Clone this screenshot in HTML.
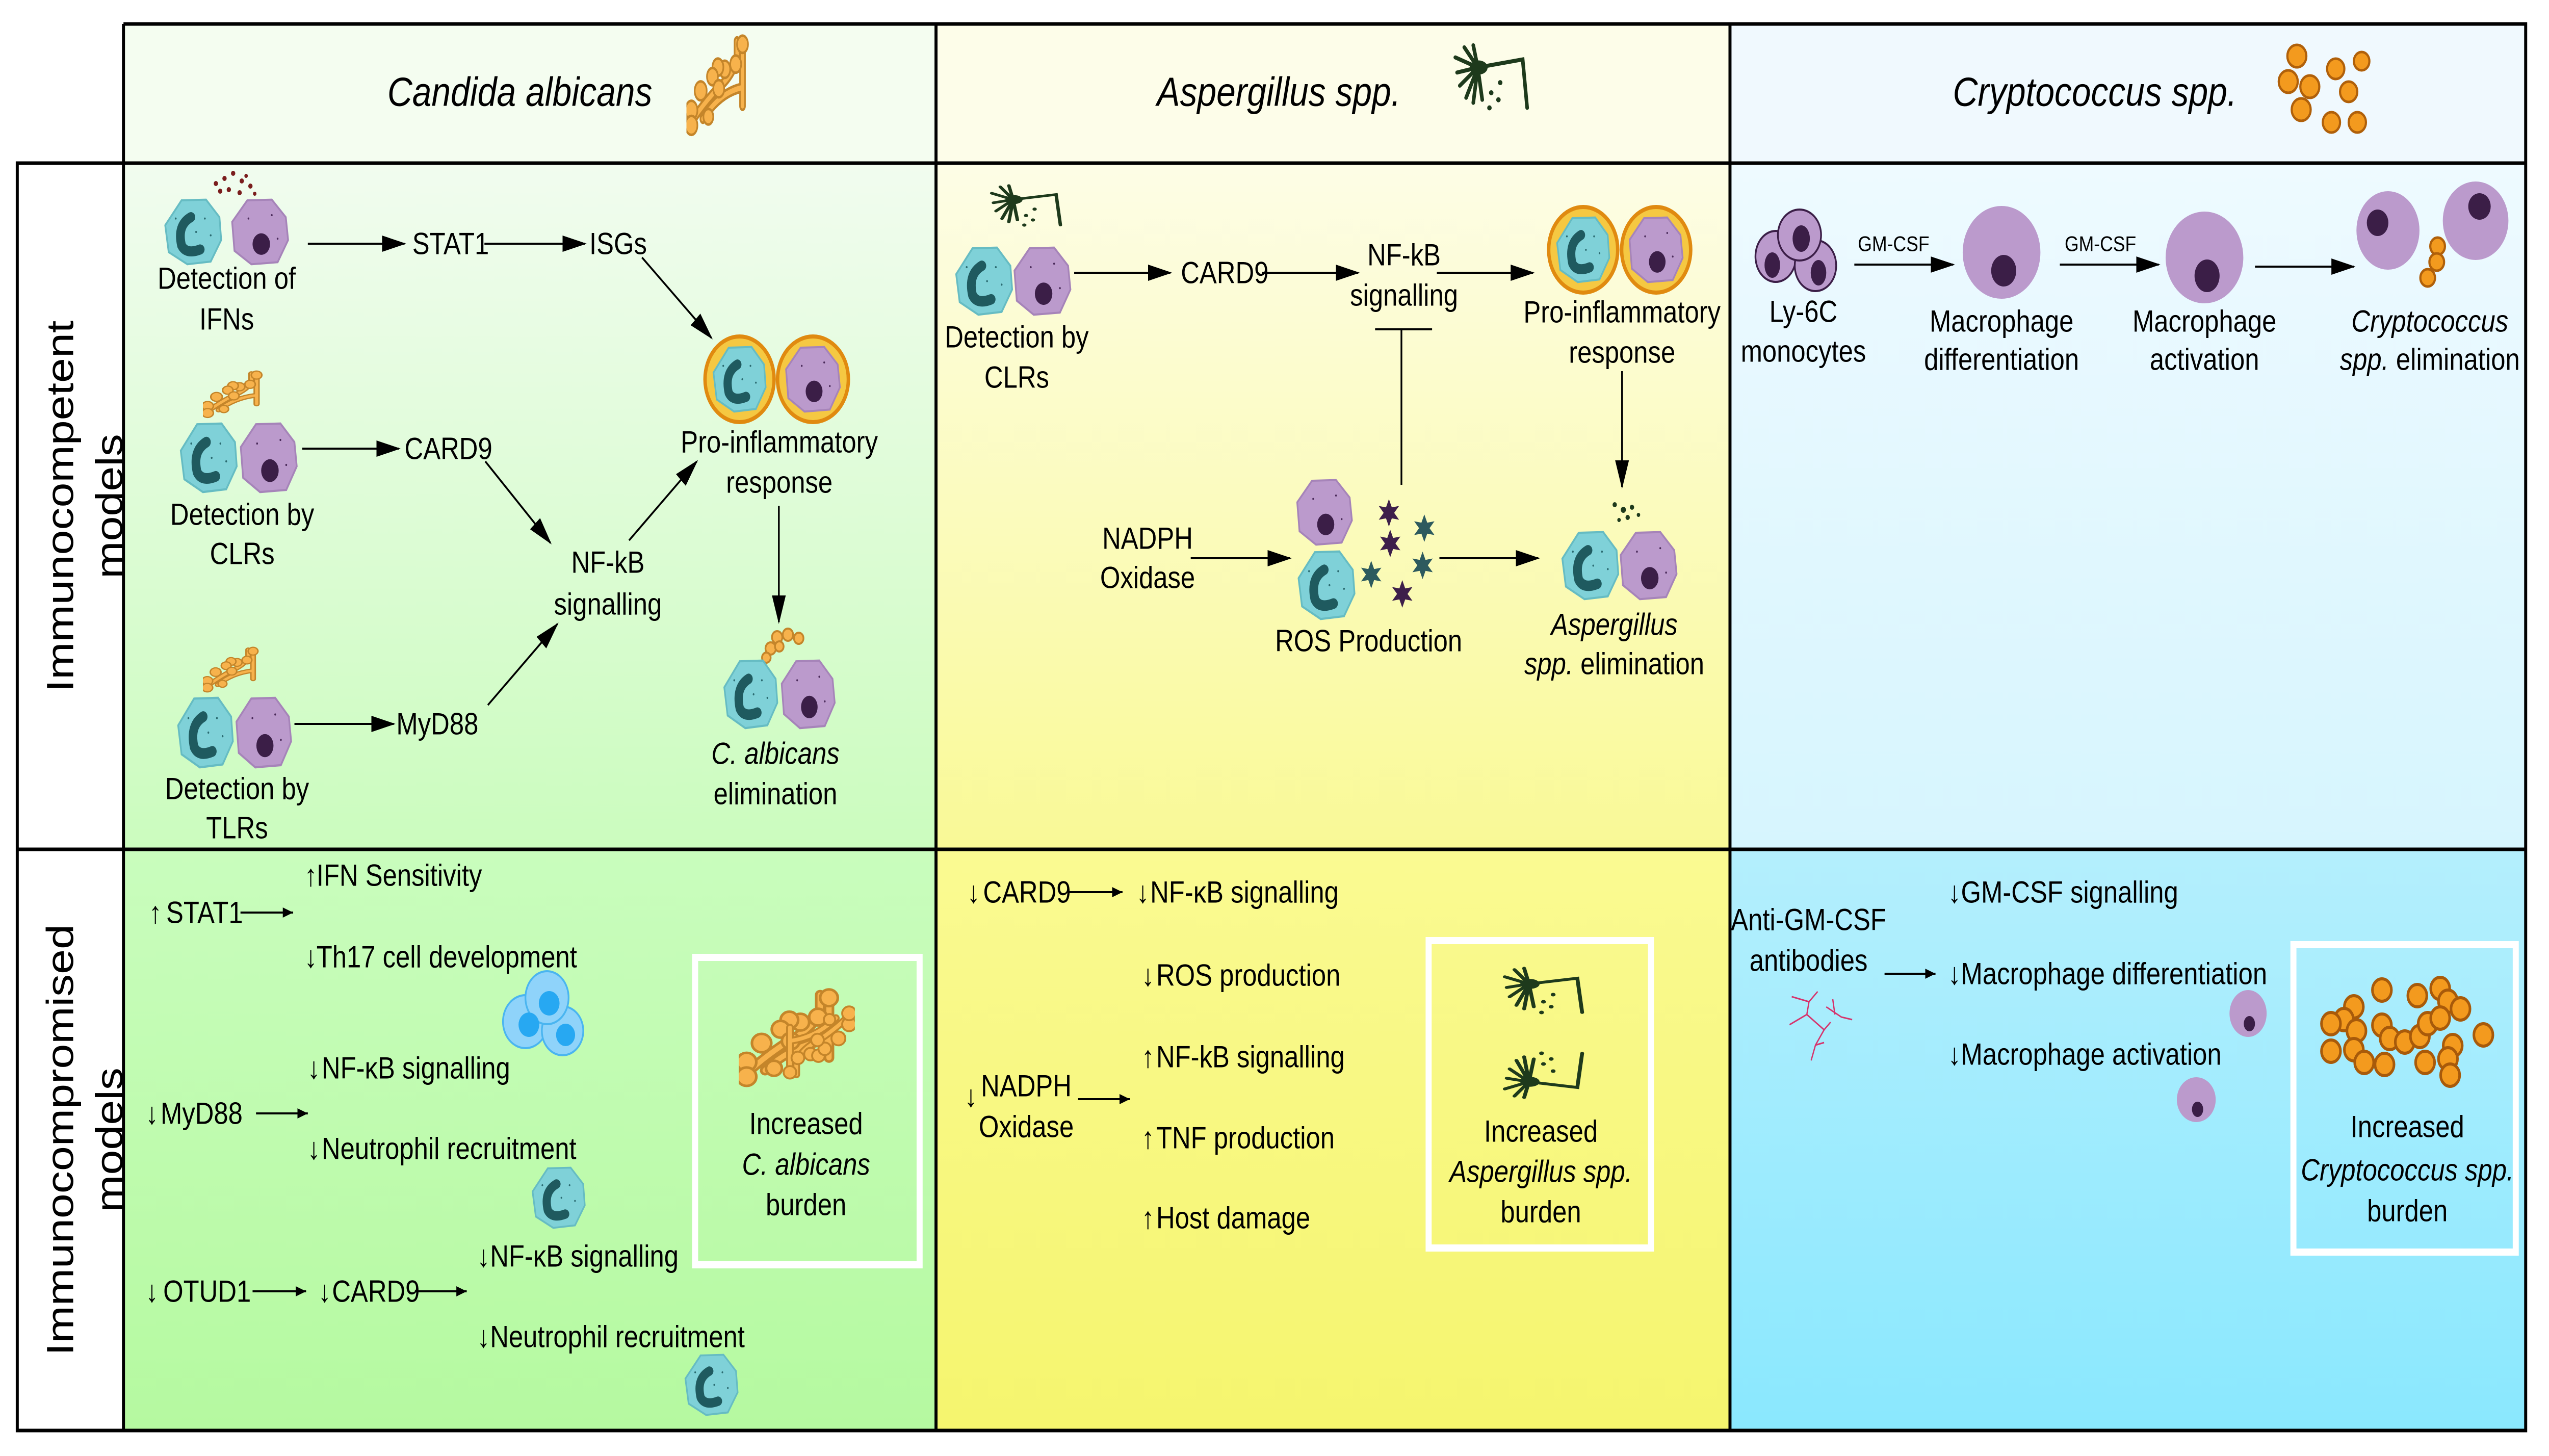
<!DOCTYPE html>
<html><head><meta charset="utf-8"><style>
html,body{margin:0;padding:0;background:#fff;overflow:hidden;width:100%;height:100%}
svg{display:block;position:fixed;left:0;top:0;width:100vw;height:100vh}
text{font-family:"Liberation Sans",sans-serif;fill:#000}
.t{font-size:60px;dominant-baseline:central}
.c{text-anchor:middle}
.i{font-style:italic}
</style></head><body>
<svg viewBox="0 0 5904 2856" preserveAspectRatio="none" xmlns="http://www.w3.org/2000/svg">
<defs>
<linearGradient id="g1u" x1="0" y1="0" x2="0" y2="1"><stop offset="0" stop-color="#f1fcef"/><stop offset="1" stop-color="#cbfcbe"/></linearGradient>
<linearGradient id="g1l" x1="0" y1="0" x2="0" y2="1"><stop offset="0" stop-color="#c9fdbd"/><stop offset="1" stop-color="#b5f9a0"/></linearGradient>
<linearGradient id="g2u" x1="0" y1="0" x2="0" y2="1"><stop offset="0" stop-color="#fdfde6"/><stop offset="1" stop-color="#f9f996"/></linearGradient>
<linearGradient id="g2l" x1="0" y1="0" x2="0" y2="1"><stop offset="0" stop-color="#fafa92"/><stop offset="1" stop-color="#f5f56e"/></linearGradient>
<linearGradient id="g3u" x1="0" y1="0" x2="0" y2="1"><stop offset="0" stop-color="#eefaff"/><stop offset="1" stop-color="#d6f5fe"/></linearGradient>
<linearGradient id="g3l" x1="0" y1="0" x2="0" y2="1"><stop offset="0" stop-color="#b4effd"/><stop offset="1" stop-color="#8ae8fe"/></linearGradient>
<marker id="a" markerWidth="14" markerHeight="8" refX="13" refY="4" orient="auto" markerUnits="strokeWidth"><path d="M0,0 L14,4 L0,8 z" fill="#000"/></marker>
<marker id="s" markerWidth="6" markerHeight="5" refX="6" refY="2.5" orient="auto" markerUnits="strokeWidth"><path d="M0,0 L6,2.5 L0,5 z" fill="#000"/></marker>
<symbol id="neu" viewBox="0 0 100 100" preserveAspectRatio="none">
<path d="M30 3 L72 2 L95 28 L98 62 L80 94 L40 98 L8 80 L2 40 Z" fill="#7fd1d8" stroke="#66bcc3" stroke-width="3"/>
<path d="M46 28 Q22 40 30 70 Q38 84 62 76" fill="none" stroke="#1f5a5f" stroke-width="15" stroke-linecap="round"/>
<circle cx="70" cy="30" r="1.5" fill="#2a6a70"/><circle cx="80" cy="55" r="1.5" fill="#2a6a70"/><circle cx="55" cy="50" r="1.5" fill="#2a6a70"/><circle cx="20" cy="30" r="1.5" fill="#2a6a70"/>
</symbol>
<symbol id="mac" viewBox="0 0 100 100" preserveAspectRatio="none">
<path d="M28 3 L70 2 L94 28 L98 62 L80 95 L35 98 L6 78 L2 35 Z" fill="#bb9acc" stroke="#a684b9" stroke-width="3"/>
<ellipse cx="52" cy="68" rx="15" ry="16" fill="#3b1e47"/>
<circle cx="30" cy="30" r="1.5" fill="#4a2a5a"/><circle cx="70" cy="25" r="1.5" fill="#4a2a5a"/><circle cx="80" cy="60" r="1.5" fill="#4a2a5a"/>
</symbol>
<symbol id="cand" viewBox="0 0 300 260" preserveAspectRatio="none">
<g stroke="#c4852a" stroke-width="24" fill="none" stroke-linecap="round"><path d="M25 200 Q80 150 130 120 Q170 95 185 60 L185 20"/><path d="M60 200 Q120 140 200 128"/><path d="M205 30 L205 170"/></g>
<g stroke="#f7b24c" stroke-width="12" fill="none" stroke-linecap="round"><path d="M25 200 Q80 150 130 120 Q170 95 185 60 L185 20"/><path d="M60 200 Q120 140 200 128"/><path d="M205 30 L205 170"/></g>
<g fill="#f7b24c" stroke="#c4852a" stroke-width="6"><circle cx="205" cy="27" r="20"/><circle cx="180" cy="73" r="20"/><circle cx="140" cy="85" r="20"/><circle cx="115" cy="80" r="20"/><circle cx="95" cy="102" r="20"/><circle cx="118" cy="130" r="20"/><circle cx="52" cy="135" r="22"/><circle cx="18" cy="180" r="22"/><circle cx="18" cy="215" r="22"/><circle cx="80" cy="195" r="18"/></g>
</symbol>
<symbol id="asp" viewBox="0 0 100 100" preserveAspectRatio="none">
<g stroke="#1e3a1c" stroke-width="4" fill="none" stroke-linecap="round">
<path d="M35 30 L85 22 L90 70"/><path d="M35 30 L10 20 M35 30 L12 35 M35 30 L15 48 M35 30 L22 60 M35 30 L30 65 M35 30 L40 62 M35 30 L20 10 M35 30 L30 8"/></g>
<ellipse cx="36" cy="30" rx="10" ry="7" fill="#1e3a1c"/>
<g fill="#1e3a1c"><circle cx="50" cy="55" r="2.5"/><circle cx="58" cy="62" r="2.5"/><circle cx="48" cy="70" r="2.5"/><circle cx="60" cy="45" r="2.5"/></g>
</symbol>
<symbol id="star" viewBox="-10 -10 20 20"><polygon points="0,-10 2.5,-4 8.7,-5 4.5,0 8.7,5 2.5,4 0,10 -2.5,4 -8.7,5 -4.5,0 -8.7,-5 -2.5,-4"/></symbol>
</defs>

<rect x="0" y="0" width="5904" height="2856" fill="#fff"/>
<rect x="283" y="47" width="1882" height="273" fill="#f4fdf0"/>
<rect x="2165" y="47" width="1842" height="273" fill="#fdfde9"/>
<rect x="4007" y="47" width="1843" height="273" fill="#f0f9fe"/>
<rect x="40" y="320" width="243" height="2486" fill="#fff"/>
<rect x="283" y="320" width="1882" height="1346" fill="url(#g1u)"/>
<rect x="2165" y="320" width="1842" height="1346" fill="url(#g2u)"/>
<rect x="4007" y="320" width="1843" height="1346" fill="url(#g3u)"/>
<rect x="283" y="1666" width="1882" height="1140" fill="url(#g1l)"/>
<rect x="2165" y="1666" width="1842" height="1140" fill="url(#g2l)"/>
<rect x="4007" y="1666" width="1843" height="1140" fill="url(#g3l)"/>

<g stroke="#000" stroke-width="7" fill="none">
<path d="M286 47 H5850 V2806 H40 V320 H5850"/>
<path d="M286 47 V2806 M2168 47 V2806 M4007 47 V2806 M40 1666 H5850"/>
</g>

<text x="1204" y="180" class="c i" style="font-size:80px;dominant-baseline:central">Candida albicans</text>
<use href="#cand" x="1590" y="64" width="190" height="220"/>
<text x="2962" y="180" class="c i" style="font-size:80px;dominant-baseline:central">Aspergillus spp.</text>
<use href="#asp" x="3350" y="73" width="208" height="198"/>
<text x="4852" y="180" class="c i" style="font-size:80px;dominant-baseline:central">Cryptococcus spp.</text>
<g fill="#f39a1e" stroke="#b0600a" stroke-width="5">
<circle cx="5320" cy="110" r="22"/><circle cx="5300" cy="160" r="22"/><circle cx="5350" cy="170" r="22"/><circle cx="5330" cy="215" r="22"/><circle cx="5410" cy="135" r="20"/><circle cx="5440" cy="180" r="20"/><circle cx="5400" cy="240" r="20"/><circle cx="5460" cy="240" r="20"/><circle cx="5470" cy="120" r="18"/>
</g>

<g style="font-size:88px">
<text class="c" transform="translate(140,993) rotate(-90)" dominant-baseline="central">Immunocompetent</text>
<text class="c" transform="translate(254,993) rotate(-90)" dominant-baseline="central">models</text>
<text class="c" transform="translate(140,2236) rotate(-90)" dominant-baseline="central">Immunocompromised</text>
<text class="c" transform="translate(254,2236) rotate(-90)" dominant-baseline="central">models</text>
</g>

<g stroke="#000" stroke-width="4" marker-end="url(#a)">
<line x1="713" y1="478" x2="937" y2="478"/>
<line x1="1122" y1="478" x2="1355" y2="478"/>
<line x1="1487" y1="505" x2="1648" y2="663"/>
<line x1="700" y1="880" x2="924" y2="880"/>
<line x1="1124" y1="905" x2="1275" y2="1065"/>
<line x1="1457" y1="1060" x2="1614" y2="905"/>
<line x1="682" y1="1420" x2="912" y2="1420"/>
<line x1="1130" y1="1383" x2="1291" y2="1224"/>
<line x1="1804" y1="992" x2="1804" y2="1220"/>
<line x1="2488" y1="535" x2="2711" y2="535"/>
<line x1="2923" y1="535" x2="3146" y2="535"/>
<line x1="3328" y1="535" x2="3551" y2="535"/>
<line x1="3757" y1="728" x2="3757" y2="955"/>
<line x1="2758" y1="1095" x2="2988" y2="1095"/>
<line x1="3334" y1="1095" x2="3563" y2="1095"/>
<line x1="4295" y1="519" x2="4524" y2="519"/>
<line x1="4771" y1="519" x2="5000" y2="519"/>
<line x1="5223" y1="523" x2="5452" y2="523"/>
</g>
<g stroke="#000" stroke-width="4"><line x1="3185" y1="646" x2="3317" y2="646"/><line x1="3246" y1="646" x2="3246" y2="951"/></g>

<g stroke="#000" stroke-width="4" marker-end="url(#s)">
<line x1="557" y1="1790" x2="679" y2="1790"/>
<line x1="593" y1="2184" x2="713" y2="2184"/>
<line x1="585" y1="2533" x2="709" y2="2533"/>
<line x1="961" y1="2533" x2="1081" y2="2533"/>
<line x1="2476" y1="1750" x2="2600" y2="1750"/>
<line x1="2497" y1="2156" x2="2617" y2="2156"/>
<line x1="4365" y1="1910" x2="4483" y2="1910"/>
</g>

<g fill="#7a1d1d"><circle cx="500" cy="360" r="5"/><circle cx="520" cy="350" r="5"/><circle cx="540" cy="340" r="5"/><circle cx="560" cy="355" r="5"/><circle cx="580" cy="365" r="5"/><circle cx="530" cy="372" r="5"/><circle cx="555" cy="378" r="5"/><circle cx="510" cy="375" r="5"/><circle cx="570" cy="345" r="4"/><circle cx="590" cy="380" r="4"/></g>
<use href="#neu" x="380" y="389" width="135" height="132"/><use href="#mac" x="535" y="389" width="135" height="132"/>
<use href="#cand" x="470" y="725" width="182" height="103"/>
<use href="#neu" x="416" y="828" width="135" height="140"/><use href="#mac" x="555" y="828" width="135" height="140"/>
<use href="#cand" x="470" y="1267" width="170" height="99"/>
<use href="#neu" x="410" y="1366" width="132" height="142"/><use href="#mac" x="545" y="1366" width="132" height="142"/>
<g fill="#f5c842" stroke="#e08a10" stroke-width="8"><ellipse cx="1713" cy="744" rx="80" ry="84"/><ellipse cx="1883" cy="744" rx="82" ry="84"/></g>
<use href="#neu" x="1650" y="678" width="126" height="132"/><use href="#mac" x="1818" y="678" width="130" height="132"/>
<g fill="#f7b24c" stroke="#c4852a" stroke-width="4"><circle cx="1800" cy="1250" r="12"/><circle cx="1825" cy="1245" r="12"/><circle cx="1850" cy="1252" r="11"/><circle cx="1785" cy="1272" r="12"/><circle cx="1805" cy="1268" r="10"/><circle cx="1775" cy="1290" r="10"/></g>
<use href="#neu" x="1675" y="1293" width="128" height="138"/><use href="#mac" x="1808" y="1293" width="128" height="138"/>

<g>
<text x="525" y="546" class="t c">Detection of</text><text x="525" y="626" class="t c">IFNs</text>
<text x="955" y="478" class="t">STAT1</text><text x="1365" y="478" class="t">ISGs</text>
<text x="561" y="1009" class="t c">Detection by</text><text x="561" y="1086" class="t c">CLRs</text>
<text x="937" y="880" class="t">CARD9</text>
<text x="1408" y="1103" class="t c">NF-kB</text><text x="1408" y="1185" class="t c">signalling</text>
<text x="1805" y="867" class="t c">Pro-inflammatory</text><text x="1805" y="946" class="t c">response</text>
<text x="918" y="1420" class="t">MyD88</text>
<text x="549" y="1547" class="t c">Detection by</text><text x="549" y="1624" class="t c">TLRs</text>
<text x="1796" y="1478" class="t c i">C. albicans</text><text x="1796" y="1557" class="t c">elimination</text>
</g>

<use href="#asp" x="2277" y="354" width="199" height="125"/>
<use href="#neu" x="2212" y="483" width="135" height="137"/><use href="#mac" x="2347" y="483" width="135" height="137"/>
<g fill="#f5c842" stroke="#e08a10" stroke-width="8"><ellipse cx="3667" cy="490" rx="80" ry="84"/><ellipse cx="3836" cy="490" rx="80" ry="84"/></g>
<use href="#neu" x="3604" y="424" width="126" height="132"/><use href="#mac" x="3772" y="424" width="128" height="132"/>
<use href="#mac" x="3002" y="939" width="132" height="132"/><use href="#neu" x="3005" y="1079" width="135" height="138"/>
<use href="#star" x="3190" y="979" width="54" height="54" fill="#3d1f4a"/>
<use href="#star" x="3272" y="1009" width="54" height="54" fill="#2d5a5e"/>
<use href="#star" x="3193" y="1039" width="54" height="54" fill="#3d1f4a"/>
<use href="#star" x="3149" y="1100" width="54" height="54" fill="#2d5a5e"/>
<use href="#star" x="3268" y="1082" width="54" height="54" fill="#2d5a5e"/>
<use href="#star" x="3221" y="1138" width="54" height="54" fill="#3d1f4a"/>
<g fill="#1e3a1c"><circle cx="3740" cy="990" r="5"/><circle cx="3760" cy="1000" r="6"/><circle cx="3780" cy="995" r="5"/><circle cx="3770" cy="1015" r="5"/><circle cx="3750" cy="1020" r="4"/><circle cx="3795" cy="1010" r="4"/></g>
<use href="#neu" x="3616" y="1041" width="135" height="137"/><use href="#mac" x="3751" y="1041" width="135" height="137"/>
<g>
<text x="2355" y="661" class="t c">Detection by</text><text x="2355" y="740" class="t c">CLRs</text>
<text x="2735" y="535" class="t">CARD9</text>
<text x="3252" y="500" class="t c">NF-kB</text><text x="3252" y="579" class="t c">signalling</text>
<text x="3757" y="612" class="t c">Pro-inflammatory</text><text x="3757" y="691" class="t c">response</text>
<text x="2658" y="1056" class="t c">NADPH</text><text x="2658" y="1133" class="t c">Oxidase</text>
<text x="3170" y="1257" class="t c">ROS Production</text>
<text x="3739" y="1225" class="t c i">Aspergillus</text>
<text x="3739" y="1302" class="t c"><tspan font-style="italic">spp.</tspan> elimination</text>
</g>

<g fill="#bb9acc" stroke="#3b1e47" stroke-width="4">
<ellipse cx="4113" cy="503" rx="47" ry="50"/><ellipse cx="4205" cy="521" rx="48" ry="50"/><ellipse cx="4168" cy="461" rx="50" ry="50"/>
</g>
<g fill="#3b1e47"><ellipse cx="4105" cy="520" rx="18" ry="25"/><ellipse cx="4212" cy="535" rx="18" ry="25"/><ellipse cx="4172" cy="468" rx="20" ry="26"/></g>
<ellipse cx="4636" cy="495" rx="90" ry="91" fill="#bb9acc"/><ellipse cx="4641" cy="531" rx="29" ry="31" fill="#3b1e47"/>
<ellipse cx="5106" cy="505" rx="90" ry="90" fill="#bb9acc"/><ellipse cx="5112" cy="541" rx="29" ry="32" fill="#3b1e47"/>
<ellipse cx="5531" cy="452" rx="73" ry="77" fill="#bb9acc"/><ellipse cx="5507" cy="437" rx="25" ry="26" fill="#3b1e47"/>
<ellipse cx="5734" cy="433" rx="76" ry="77" fill="#bb9acc"/><ellipse cx="5743" cy="405" rx="26" ry="26" fill="#3b1e47"/>
<g fill="#f39a1e" stroke="#b0600a" stroke-width="5"><circle cx="5646" cy="483" r="17"/><circle cx="5644" cy="514" r="17"/><circle cx="5623" cy="545" r="17"/></g>
<g>
<text x="4386" y="479" class="c" style="font-size:42px;dominant-baseline:central">GM-CSF</text>
<text x="4865" y="479" class="c" style="font-size:42px;dominant-baseline:central">GM-CSF</text>
<text x="4177" y="611" class="t c">Ly-6C</text><text x="4177" y="689" class="t c">monocytes</text>
<text x="4636" y="630" class="t c">Macrophage</text><text x="4636" y="705" class="t c">differentiation</text>
<text x="5106" y="630" class="t c">Macrophage</text><text x="5106" y="705" class="t c">activation</text>
<text x="5628" y="630" class="t c i">Cryptococcus</text>
<text x="5628" y="705" class="t c"><tspan font-style="italic">spp.</tspan> elimination</text>
</g>

<g>
<text x="705" y="1717" class="t">↑</text><text x="733" y="1717" class="t">IFN Sensitivity</text>
<text x="345" y="1790" class="t">↑</text><text x="385" y="1790" class="t">STAT1</text>
<text x="705" y="1877" class="t">↓</text><text x="733" y="1877" class="t">Th17 cell development</text>
<text x="712" y="2095" class="t">↓</text><text x="745" y="2095" class="t">NF-κB signalling</text>
<text x="337" y="2184" class="t">↓</text><text x="372" y="2184" class="t">MyD88</text>
<text x="712" y="2253" class="t">↓</text><text x="745" y="2253" class="t">Neutrophil recruitment</text>
<text x="1105" y="2464" class="t">↓</text><text x="1135" y="2464" class="t">NF-κB signalling</text>
<text x="337" y="2533" class="t">↓</text><text x="378" y="2533" class="t">OTUD1</text>
<text x="737" y="2533" class="t">↓</text><text x="769" y="2533" class="t">CARD9</text>
<text x="1105" y="2622" class="t">↓</text><text x="1135" y="2622" class="t">Neutrophil recruitment</text>
</g>
<g fill="#8fd3fa" stroke="#4ab5f0" stroke-width="4"><ellipse cx="1217" cy="2004" rx="52" ry="52"/><ellipse cx="1303" cy="2022" rx="48" ry="48"/><ellipse cx="1267" cy="1957" rx="50" ry="52"/></g>
<g fill="#27a8f2"><circle cx="1225" cy="2010" r="24"/><circle cx="1310" cy="2030" r="22"/><circle cx="1272" cy="1968" r="24"/></g>
<use href="#neu" x="1231" y="2288" width="126" height="123"/>
<use href="#neu" x="1585" y="2655" width="126" height="123"/>
<rect x="1610" y="1878" width="520" height="603" fill="none" stroke="#fff" stroke-width="14"/>
<use href="#cand" x="1711" y="1935" width="306" height="214"/>
<use href="#cand" x="1760" y="1960" width="220" height="160" transform="rotate(180 1870 2040)"/>
<text x="1867" y="2204" class="t c">Increased</text><text x="1867" y="2284" class="t c i">C. albicans</text><text x="1867" y="2363" class="t c">burden</text>

<g>
<text x="2240" y="1750" class="t">↓</text><text x="2277" y="1750" class="t">CARD9</text>
<text x="2632" y="1750" class="t">↓</text><text x="2664" y="1750" class="t">NF-κB signalling</text>
<text x="2644" y="1913" class="t">↓</text><text x="2678" y="1913" class="t">ROS production</text>
<text x="2644" y="2073" class="t">↑</text><text x="2678" y="2073" class="t">NF-kB signalling</text>
<text x="2234" y="2150" class="t">↓</text><text x="2377" y="2130" class="t c">NADPH</text><text x="2377" y="2210" class="t c">Oxidase</text>
<text x="2644" y="2232" class="t">↑</text><text x="2678" y="2232" class="t">TNF production</text>
<text x="2644" y="2389" class="t">↑</text><text x="2678" y="2389" class="t">Host damage</text>
</g>
<rect x="3309" y="1845" width="515" height="603" fill="none" stroke="#fff" stroke-width="14"/>
<use href="#asp" x="3463" y="1888" width="224" height="140"/>
<use href="#asp" x="3463" y="2024" width="224" height="140" transform="scale(1,-1) translate(0,-4188)"/>
<text x="3569" y="2219" class="t c">Increased</text><text x="3569" y="2298" class="t c i">Aspergillus spp.</text><text x="3569" y="2377" class="t c">burden</text>

<g>
<text x="4512" y="1750" class="t">↓</text><text x="4542" y="1750" class="t">GM-CSF signalling</text>
<text x="4189" y="1804" class="t c">Anti-GM-CSF</text><text x="4189" y="1884" class="t c">antibodies</text>
<text x="4512" y="1910" class="t">↓</text><text x="4542" y="1910" class="t">Macrophage differentiation</text>
<text x="4512" y="2068" class="t">↓</text><text x="4542" y="2068" class="t">Macrophage activation</text>
</g>
<g stroke="#d6336c" stroke-width="3" fill="none"><path d="M4150 1955 L4190 1965 L4210 1945 M4190 1965 L4185 1990 L4145 2010 M4185 1990 L4225 2020 L4240 2005 M4225 2020 L4205 2050 L4195 2080 M4230 1975 L4265 1995 L4290 2000 M4250 1990 L4245 1960 M4205 2050 L4225 2045"/></g>
<ellipse cx="5207" cy="1988" rx="43" ry="46" fill="#bb9acc"/><ellipse cx="5210" cy="2008" rx="13" ry="15" fill="#3b1e47"/>
<ellipse cx="5087" cy="2157" rx="45" ry="44" fill="#bb9acc"/><ellipse cx="5090" cy="2176" rx="13" ry="15" fill="#3b1e47"/>
<rect x="5312" y="1853" width="515" height="603" fill="none" stroke="#fff" stroke-width="14"/>
<g fill="#f39a1e" stroke="#a85a0a" stroke-width="6">
<circle cx="5517" cy="1942" r="22"/><circle cx="5599" cy="1953" r="22"/><circle cx="5652" cy="1939" r="22"/><circle cx="5670" cy="1964" r="22"/><circle cx="5699" cy="1979" r="22"/><circle cx="5452" cy="1975" r="22"/><circle cx="5429" cy="2000" r="22"/><circle cx="5399" cy="2008" r="22"/><circle cx="5458" cy="2022" r="22"/><circle cx="5517" cy="2011" r="22"/><circle cx="5535" cy="2037" r="22"/><circle cx="5570" cy="2044" r="22"/><circle cx="5605" cy="2033" r="22"/><circle cx="5623" cy="2008" r="22"/><circle cx="5652" cy="1997" r="22"/><circle cx="5752" cy="2030" r="22"/><circle cx="5681" cy="2051" r="22"/><circle cx="5670" cy="2077" r="22"/><circle cx="5399" cy="2062" r="22"/><circle cx="5452" cy="2059" r="22"/><circle cx="5476" cy="2084" r="22"/><circle cx="5523" cy="2088" r="22"/><circle cx="5617" cy="2084" r="22"/><circle cx="5675" cy="2109" r="22"/>
</g>
<text x="5576" y="2210" class="t c">Increased</text><text x="5576" y="2295" class="t c i">Cryptococcus spp.</text><text x="5576" y="2375" class="t c">burden</text>
</svg>
</body></html>
